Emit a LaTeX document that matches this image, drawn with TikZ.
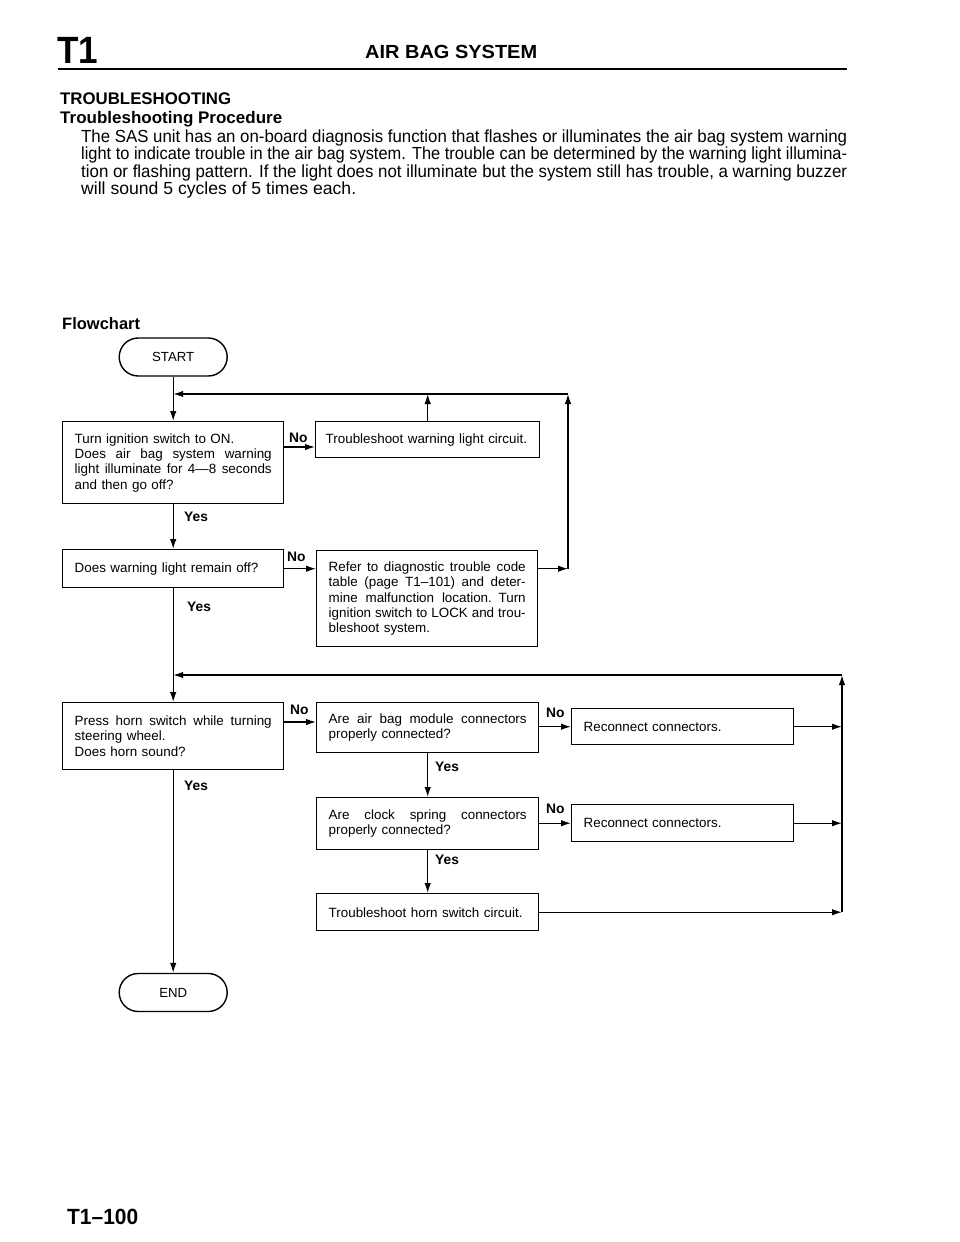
\documentclass[tikz,border=0pt]{standalone}
\usepackage{fontspec}
\setmainfont{Liberation Sans}
\usepackage{graphicx}
\usetikzlibrary{arrows.meta}
\newcommand\jl[2]{\makebox[#1][s]{\spaceskip=0.278em plus 1em minus 0.08em\relax #2}}
\newcommand\fitw[2]{\resizebox{#1}{\height}{#2}}
\begin{document}
\begin{tikzpicture}[x=1pt,y=-1pt,
  box/.style={draw, line width=1.4pt, rectangle, inner xsep=12pt, inner ysep=3pt, align=left, anchor=north west, font=\fontsize{13.4}{15.3}\selectfont},
  term/.style={draw, line width=1.4pt, rounded corners=19pt, minimum width=108pt, minimum height=38pt, inner sep=0pt, font=\fontsize{13.2}{13.2}\selectfont},
  arr/.style={line width=1.3pt, -{Latex[length=10pt,width=6.5pt]}},
  lbl/.style={font=\bfseries\fontsize{13.8}{13.8}\selectfont, inner sep=0pt, anchor=base west},
  txt/.style={inner sep=0pt, anchor=base west},
  head/.style={inner sep=0pt, anchor=base west, font=\bfseries}]
\useasboundingbox (0,0) rectangle (960,1242);
\fill[white] (0,0) rectangle (960,1242);

% header
\node[head, font=\bfseries\fontsize{38}{38}\selectfont] (t1) at (57,63) {\fitw{41pt}{T1}};
\node[head, font=\bfseries\fontsize{19}{19}\selectfont] (title) at (365,58) {\fitw{172pt}{AIR BAG SYSTEM}};
\draw[line width=2.4pt] (58,69) -- (847,69);
\node[head, font=\bfseries\fontsize{16.8}{16.8}\selectfont] (h1) at (60,104) {\fitw{171pt}{TROUBLESHOOTING}};
\node[head, font=\bfseries\fontsize{16.8}{16.8}\selectfont] (h2) at (60,123) {\fitw{222pt}{Troubleshooting Procedure}};
\node[txt, font=\fontsize{17.5}{17.5}\selectfont] (p1) at (81,142) {\fitw{766pt}{The SAS unit has an on-board diagnosis function that flashes or illuminates the air bag system warning}};
\node[txt, font=\fontsize{17.5}{17.5}\selectfont] (p2) at (81,159.5) {\fitw{766pt}{light to indicate trouble in the air bag system. The trouble can be determined by the warning light illumina-}};
\node[txt, font=\fontsize{17.5}{17.5}\selectfont] (p3) at (81,177) {\fitw{766pt}{tion or flashing pattern. If the light does not illuminate but the system still has trouble, a warning buzzer}};
\node[txt, font=\fontsize{17.5}{17.5}\selectfont] (p4) at (81,194.5) {\fitw{275pt}{will sound 5 cycles of 5 times each.}};
\node[head, font=\bfseries\fontsize{16.5}{16.5}\selectfont] (fc) at (62,329) {Flowchart};

% boxes
\node[box, text width=197pt, minimum width=221pt, minimum height=82pt] (b1) at (62,421)
  {Turn ignition switch to ON.\\ \jl{197pt}{Does air bag system warning}\\ \jl{197pt}{light illuminate for 4—8 seconds}\\ and then go off?};
\node[box, inner xsep=10pt, text width=204pt, minimum width=224pt, minimum height=36pt] (b2) at (315,421)
  {Troubleshoot warning light circuit.};
\node[box, text width=197pt, minimum width=221pt, minimum height=38pt] (b3) at (62,549)
  {Does warning light remain off?};
\node[box, text width=197pt, minimum width=221pt, minimum height=96pt] (b4) at (316,550)
  {\jl{197pt}{Refer to diagnostic trouble code}\\ \jl{197pt}{table (page T1–101) and deter-}\\ \jl{197pt}{mine malfunction location. Turn}\\ \jl{197pt}{ignition switch to LOCK and trou-}\\ bleshoot system.};
\node[box, text width=197pt, minimum width=221pt, minimum height=67pt] (b5) at (62,702)
  {\jl{197pt}{Press horn switch while turning}\\ steering wheel.\\ Does horn sound?};
\node[box, text width=198pt, minimum width=222pt, minimum height=50pt] (b6) at (316,702)
  {\jl{198pt}{Are air bag module connectors}\\ properly connected?};
\node[box, text width=198pt, minimum width=222pt, minimum height=36pt] (b7) at (571,708)
  {Reconnect connectors.};
\node[box, text width=198pt, minimum width=222pt, minimum height=52pt] (b8) at (316,797)
  {\jl{198pt}{Are clock spring connectors}\\ properly connected?};
\node[box, text width=198pt, minimum width=222pt, minimum height=37pt] (b9) at (571,804)
  {Reconnect connectors.};
\node[box, text width=198pt, minimum width=222pt, minimum height=37pt] (b10) at (316,893)
  {Troubleshoot horn switch circuit.};

% terminals
\node[term] (start) at (b1.north |- 0,357) {START};
\node[term] (end) at (b5.south |- 0,992.5) {END};

% helper coordinates
\coordinate (tr) at (568,394);
\coordinate (tl) at (b1.north |- tr);
\coordinate (br) at (842,675);
\coordinate (bl) at (b1.north |- br);
\coordinate (y1) at (0,447);
\coordinate (y5) at (0,722);

% connectors
\draw[arr] (start.south) -- (b1.north);
\draw[arr] (b1.east |- y1) -- (b2.west |- y1);
\draw[arr] (b2.north) -- (b2.north |- tr);
\draw[arr] (b1.south) -- (b3.north);
\draw[arr] (b3.east) -- (b3.east -| b4.west);
\draw[arr] (b4.east |- b3.east) -- (tr |- b3.east);
\draw[arr] (tr |- b3.east) -- (tr);
\draw[arr] (tr) -- (tl);
\draw[arr] (b3.south) -- (b5.north);
\draw[arr] (b5.east |- y5) -- (b6.west |- y5);
\draw[arr] (b6.east |- b7.east) -- (b7.west);
\draw[arr] (b6.south) -- (b8.north);
\draw[arr] (b8.east |- b9.east) -- (b9.west);
\draw[arr] (b8.south) -- (b10.north);
\draw[arr] (b7.east) -- (b7.east -| br);
\draw[arr] (b9.east) -- (b9.east -| br);
\draw[arr] (b10.east) -- (b10.east -| br);
\draw[arr] (b10.east -| br) -- (br);
\draw[arr] (br) -- (bl);
\draw[arr] (b5.south) -- (end.north);

% labels
\node[lbl] (no1) at (289,442) {No};
\node[lbl] (yes1) at (184,521) {Yes};
\node[lbl] (no2) at (287,561) {No};
\node[lbl] (yes2) at (187,611) {Yes};
\node[lbl] (no3) at (290,714) {No};
\node[lbl] (yes3) at (184,790) {Yes};
\node[lbl] (no4) at (546,717) {No};
\node[lbl] (yes4) at (435,771) {Yes};
\node[lbl] (no5) at (546,813) {No};
\node[lbl] (yes5) at (435,864) {Yes};

% footer
\node[head, font=\bfseries\fontsize{22}{22}\selectfont] (pg) at (67,1224) {\fitw{71pt}{T1–100}};
\end{tikzpicture}
\end{document}
